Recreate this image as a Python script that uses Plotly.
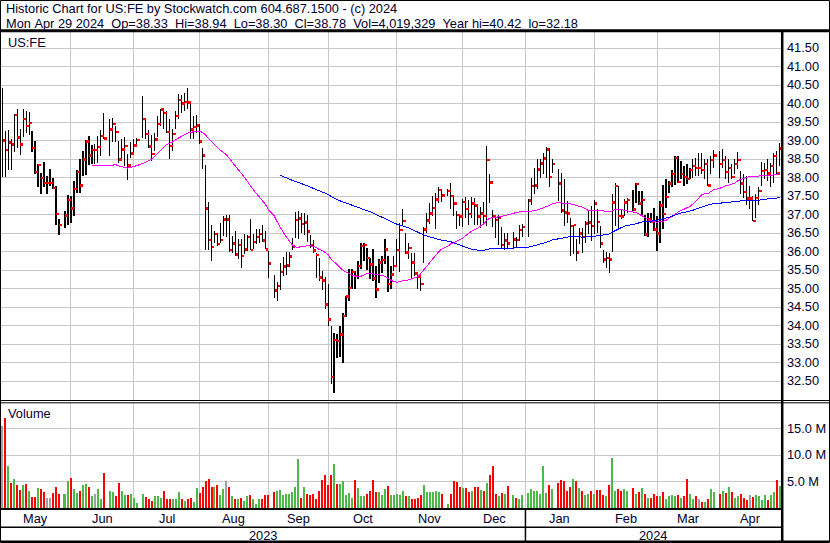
import numpy as np
import pandas as pd
import plotly.graph_objects as go

# ---------------- data ----------------
holidays = ["2023-05-29", "2023-06-19", "2023-07-04", "2023-09-04", "2023-11-23",
            "2023-12-25", "2024-01-01", "2024-01-15", "2024-02-19", "2024-03-29"]

month_names = ["May", "Jun", "Jul", "Aug", "Sep", "Oct", "Nov", "Dec",
               "Jan", "Feb", "Mar", "Apr"]
year_names = ["2023", "2024"]

high = [
    # May 2023
    40.42, 39.26, 39.28, 39.03, 39.72, 39.84, 39.30, 39.84, 39.80, 39.78, 39.26, 38.99,
    38.36, 38.13, 38.43, 38.03, 38.22, 37.98, 37.77, 36.89, 37.09, 37.54,
    # Jun
    37.50, 37.90, 38.20, 38.49, 38.72, 39.01, 39.11, 38.88, 38.90, 39.13, 39.29, 39.73,
    39.58, 39.62, 39.40, 39.00, 39.05, 39.10, 38.64, 38.97, 39.05,
    # Jul
    39.08, 40.19, 39.61, 39.29, 39.15, 39.20, 39.65, 39.86, 39.89, 39.80, 39.59, 39.32,
    39.80, 40.25, 40.22, 40.29, 40.42, 40.05, 39.66, 39.69,
    # Aug
    39.44, 38.81, 38.35, 37.35, 36.72, 36.55, 36.49, 36.78, 36.96, 36.98, 36.98, 36.42,
    36.55, 36.35, 36.33, 36.46, 36.44, 36.87, 36.46, 36.60, 36.62, 36.72, 36.55,
    # Sep
    36.01, 35.36, 35.18, 35.68, 35.84, 35.99, 35.99, 36.36, 37.08, 37.10, 37.05, 37.05,
    36.99, 36.45, 36.30, 35.95, 35.83, 35.47, 35.30, 35.11,
    # Oct
    34.00, 33.79, 33.76, 33.99, 34.35, 34.81, 35.52, 35.52, 35.47, 35.74, 36.24, 36.22,
    36.10, 35.83, 36.08, 35.61, 35.79, 35.88, 36.33, 35.88, 35.61, 35.88,
    # Nov
    36.35, 36.78, 37.16, 36.51, 36.24, 35.97, 35.97, 35.45, 35.36, 36.65, 37.05, 37.32,
    37.50, 37.59, 37.73, 37.65, 37.70, 37.86, 37.50, 37.09, 37.00,
    # Dec
    37.43, 37.48, 37.39, 37.48, 37.45, 37.25, 37.20, 37.34, 38.85, 38.10, 37.12, 36.94,
    37.00, 36.67, 36.50, 36.50, 36.53, 36.40, 36.72, 36.75,
    # Jan 2024
    37.43, 38.00, 38.27, 38.50, 38.51, 38.67, 38.83, 38.80, 38.50, 38.24, 38.11, 37.95,
    37.36, 36.91, 36.72, 36.33, 36.64, 36.64, 36.82, 37.09, 37.23,
    # Feb
    37.39, 37.15, 36.70, 36.05, 36.00, 35.95, 37.55, 37.85, 37.77, 37.14, 37.41, 37.45,
    37.65, 37.86, 37.64, 37.64, 37.00, 37.05, 37.05, 37.18,
    # Mar
    36.96, 37.37, 37.79, 37.95, 37.90, 38.19, 38.58, 38.58, 38.45, 38.31, 38.36, 38.27,
    38.51, 38.54, 38.67, 38.67, 38.49, 38.49, 38.58, 38.73,
    # Apr
    38.72, 38.76, 38.58, 38.49, 38.36, 38.49, 38.69, 38.18, 38.09, 38.04, 37.77, 37.50,
    37.55, 37.75, 38.43, 38.40, 38.49, 38.40, 38.65, 38.72, 38.94,
]

low = [
    # May 2023
    38.02, 38.01, 38.20, 38.20, 38.68, 38.80, 38.60, 39.10, 39.20, 39.16, 38.69, 38.10,
    37.75, 37.55, 37.75, 37.55, 37.77, 37.68, 36.72, 36.45, 36.64, 36.72,
    # Jun
    36.76, 36.96, 37.59, 37.59, 38.04, 38.08, 38.33, 38.36, 38.36, 38.40, 38.58, 39.04,
    38.58, 38.95, 38.96, 38.38, 38.45, 38.32, 37.93, 38.52, 38.65,
    # Jul
    38.85, 39.06, 39.03, 38.79, 38.44, 38.72, 39.10, 39.39, 39.30, 39.19, 38.49, 38.72,
    39.32, 39.57, 39.75, 39.80, 39.86, 39.03, 39.05, 39.21,
    # Aug
    38.91, 38.22, 36.04, 36.04, 35.74, 36.22, 36.15, 36.24, 36.42, 36.40, 36.00, 35.97,
    35.88, 35.79, 35.56, 35.92, 36.01, 36.04, 36.06, 36.20, 36.24, 36.26, 36.06,
    # Sep
    35.29, 34.73, 34.67, 34.96, 35.34, 35.36, 35.59, 36.04, 36.36, 36.34, 36.49, 36.45,
    36.27, 36.10, 35.97, 35.28, 35.20, 34.96, 34.44, 34.00,
    # Oct
    32.41, 32.18, 33.13, 33.15, 32.98, 34.24, 34.66, 34.99, 34.99, 35.27, 35.52, 35.74,
    35.49, 35.27, 35.20, 34.75, 35.16, 35.43, 35.65, 34.90, 35.00, 35.47,
    # Nov
    35.58, 35.45, 36.69, 35.92, 35.79, 35.29, 35.34, 34.99, 34.93, 35.68, 36.51, 36.74,
    36.96, 36.60, 37.32, 37.34, 37.50, 37.14, 36.95, 36.60, 36.69,
    # Dec
    36.67, 36.90, 36.72, 36.90, 36.72, 36.72, 36.63, 36.76, 36.70, 37.30, 36.67, 36.36,
    36.18, 36.09, 36.05, 36.10, 36.08, 36.12, 36.28, 36.40,
    # Jan 2024
    36.40, 37.26, 37.56, 37.68, 37.99, 38.10, 38.00, 37.73, 38.11, 37.36, 37.05, 36.69,
    36.78, 35.88, 35.92, 35.74, 36.19, 35.97, 36.24, 36.46, 36.28,
    # Feb
    36.46, 36.50, 36.10, 35.70, 35.55, 35.43, 35.99, 36.69, 36.64, 36.87, 36.96, 37.05,
    37.09, 37.32, 37.27, 36.96, 36.42, 36.38, 36.78, 36.55,
    # Mar
    36.01, 36.24, 36.60, 37.18, 37.59, 37.73, 37.79, 37.86, 37.95, 37.77, 37.82, 37.95,
    38.00, 38.04, 38.04, 38.09, 37.95, 37.77, 38.09, 38.27,
    # Apr
    38.00, 38.27, 37.95, 37.86, 37.95, 38.09, 38.22, 37.55, 37.45, 37.27, 37.14, 36.82,
    36.91, 37.27, 37.77, 37.95, 37.90, 37.73, 37.86, 38.09, 38.30,
]

close = [
    # May 2023
    39.00, 38.74, 38.94, 38.90, 39.69, 39.08, 38.90, 39.58, 39.39, 39.47, 38.80, 38.15,
    38.34, 37.99, 37.85, 37.85, 37.85, 37.72, 37.01, 36.72, 36.98, 37.39,
    # Jun
    37.17, 37.69, 38.15, 37.79, 38.49, 38.97, 38.59, 38.74, 38.74, 38.82, 39.12, 39.06,
    39.30, 39.45, 39.23, 38.49, 38.76, 38.85, 38.33, 38.65, 38.87,
    # Jul
    39.01, 39.58, 39.18, 38.84, 38.64, 39.03, 39.45, 39.84, 39.74, 39.23, 38.85, 39.18,
    39.66, 40.10, 40.00, 40.04, 40.02, 39.30, 39.36, 39.40,
    # Aug
    38.98, 38.60, 37.17, 36.31, 36.12, 36.47, 36.20, 36.31, 36.87, 36.87, 36.04, 36.22,
    35.92, 36.18, 35.88, 36.06, 36.39, 36.04, 36.26, 36.39, 36.47, 36.29, 36.06,
    # Sep
    35.68, 34.95, 35.07, 35.45, 35.59, 35.62, 35.86, 36.13, 36.85, 36.90, 36.74, 36.78,
    36.54, 36.16, 36.02, 35.91, 35.30, 35.21, 34.56, 34.16,
    # Oct
    32.61, 33.61, 33.58, 33.76, 34.26, 34.78, 35.01, 35.45, 35.34, 35.61, 36.15, 36.18,
    35.82, 35.65, 35.27, 34.98, 35.70, 35.77, 36.06, 35.12, 35.38, 35.61,
    # Nov
    36.04, 36.58, 36.82, 35.97, 36.10, 35.70, 35.41, 35.32, 35.12, 36.60, 36.84, 37.03,
    37.18, 37.41, 37.66, 37.52, 37.63, 37.50, 37.30, 36.99, 36.95,
    # Dec
    37.34, 37.15, 37.01, 37.30, 37.25, 36.95, 37.02, 36.96, 38.47, 37.86, 36.96, 36.85,
    36.92, 36.18, 36.30, 36.22, 36.33, 36.31, 36.58, 36.66,
    # Jan 2024
    37.38, 37.77, 37.79, 38.22, 38.38, 38.52, 38.75, 38.01, 38.36, 37.83, 37.11, 37.05,
    37.02, 36.69, 36.72, 35.97, 36.49, 36.39, 36.76, 36.78, 36.69,
    # Feb
    37.30, 36.80, 36.22, 35.79, 35.82, 35.79, 37.32, 37.77, 36.96, 36.94, 37.32, 37.39,
    37.14, 37.82, 37.30, 37.39, 36.46, 36.87, 36.80, 36.60,
    # Mar
    36.49, 37.25, 37.01, 37.47, 37.84, 38.09, 38.53, 37.88, 38.09, 38.01, 37.96, 38.20,
    38.31, 38.26, 38.26, 38.20, 38.36, 37.79, 38.47, 38.60,
    # Apr
    38.36, 38.47, 38.15, 38.26, 38.01, 38.36, 38.47, 37.84, 37.61, 37.43, 37.43, 36.82,
    37.45, 37.64, 38.18, 38.20, 38.11, 38.31, 38.58, 38.11, 38.78,
]

volume_m = [
    # May 2023
    15.5, 17.1, 7.9, 4.7, 5.5, 4.3, 3.4, 4.3, 4.5, 3.2, 2.0, 2.0,
    3.7, 3.5, 3.0, 1.8, 1.8, 2.8, 3.9, 2.6, 2.6, 5.0,
    # Jun
    5.7, 3.5, 2.8, 3.1, 4.2, 4.5, 3.9, 2.1, 2.6, 3.5, 1.6, 6.6,
    3.1, 2.9, 2.1, 4.6, 3.1, 2.3, 2.3, 2.5, 1.8,
    # Jul
    0.8, 2.5, 2.0, 1.7, 1.2, 2.2, 2.1, 1.9, 3.2, 1.6, 1.6, 1.7,
    1.7, 2.9, 1.7, 1.3, 1.7, 1.9, 1.1, 3.7,
    # Aug
    2.7, 4.0, 5.0, 5.4, 3.9, 3.9, 4.3, 2.3, 3.6, 5.0, 3.9, 2.1,
    1.7, 1.7, 1.9, 1.3, 2.1, 2.4, 1.6, 0.6, 1.6, 1.7, 2.4,
    # Sep
    2.4, 3.0, 3.2, 3.4, 2.4, 2.6, 2.6, 3.0, 3.9, 9.3, 1.9, 4.0,
    2.6, 2.4, 2.6, 1.7, 3.2, 5.2, 6.2, 4.2,
    # Oct
    6.2, 8.3, 4.4, 4.4, 5.0, 2.3, 2.7, 1.9, 5.2, 3.7, 2.1, 2.1,
    2.6, 3.2, 5.2, 3.0, 2.9, 2.4, 3.6, 4.1, 2.3, 2.3,
    # Nov
    2.6, 2.3, 3.2, 2.1, 2.1, 1.6, 1.6, 1.9, 2.3, 4.2, 3.0, 2.9,
    2.9, 3.2, 2.9, 2.6, 0.6, 2.6, 5.0, 4.8, 3.9,
    # Dec
    3.8, 3.7, 2.9, 3.1, 3.9, 3.9, 3.4, 3.1, 4.6, 6.1, 7.9, 2.5,
    2.1, 2.8, 2.5, 4.1, 2.3, 1.9, 1.6, 2.3,
    # Jan 2024
    2.8, 3.6, 3.2, 3.2, 2.6, 7.9, 2.8, 4.2, 3.6, 4.6, 5.2, 5.0,
    3.1, 3.9, 5.5, 5.0, 3.7, 3.1, 2.3, 2.5, 3.1,
    # Feb
    2.6, 3.4, 3.4, 2.3, 2.1, 4.2, 9.5, 3.2, 3.6, 3.1, 3.6, 3.1,
    3.7, 2.6, 2.9, 3.8, 2.6, 1.9, 1.9, 2.6,
    # Mar
    2.2, 2.1, 3.0, 1.7, 2.1, 2.3, 2.1, 2.4, 1.9, 2.1, 5.4, 2.6,
    1.6, 2.1, 1.7, 1.1, 1.0, 1.7, 3.6, 2.9,
    # Apr
    2.6, 3.1, 2.8, 3.9, 2.9, 1.9, 2.1, 2.6, 1.8, 1.5, 2.3, 2.0,
    2.3, 2.1, 1.4, 2.3, 1.5, 2.3, 2.9, 5.2, 4.02,
]

header_1 = "Historic Chart for US:FE by Stockwatch.com 604.687.1500 - (c) 2024"
header_2 = ("Mon Apr 29 2024  Op=38.33  Hi=38.94  Lo=38.30  Cl=38.78  "
            "Vol=4,019,329  Year hi=40.42  lo=32.18")
price_ticks = [32.5 + 0.5 * k for k in range(19)]
volume_ticks = [5, 10, 15]

# ---------------- positions ----------------
weekdays = pd.bdate_range("2023-05-01", "2024-04-29")
is_trade = ~weekdays.isin(pd.to_datetime(holidays))
xi = np.arange(len(weekdays))[is_trade]
n = min(len(xi), len(high), len(low), len(close), len(volume_m))
xi = xi[:n]

# month boundaries (1st of month, weekend -> previous Friday)
bounds = []
for m in pd.date_range("2023-06-01", "2024-04-01", freq="MS"):
    d = m
    while d.weekday() >= 5:
        d -= pd.Timedelta(days=1)
    bounds.append(int(weekdays.get_loc(d)))

W, H = 830, 543
PLOT_R, PLOT_T, PLOT_B = 781, 32, 508
X0PX, DX = 2.2, 2.99
xmin = -X0PX / DX
xmax = (PLOT_R - X0PX) / DX


def PX(px):
    return px / PLOT_R


def PY(py):
    return (PLOT_B - py) / (PLOT_B - PLOT_T)


def price_at(py):
    return 41.5 - (py - 48) / 37.0


VOL0, VOLK = 507.5, 5.25


def vol_at(py):
    return (VOL0 - py) / VOLK


# ---------------- traces ----------------
cl = pd.Series(close[:n])
ma30 = cl.rolling(30).mean()
ma90 = cl.rolling(90).mean()

hx, hy = [], []
for k in range(n):
    hx += [xi[k], xi[k], None]
    hy += [low[k], high[k], None]

vcol = []
for k in range(n):
    if k == 0 or close[k] == close[k - 1]:
        vcol.append("#a0a0a0")
    elif close[k] > close[k - 1]:
        vcol.append("#4cb848")
    else:
        vcol.append("#ff0000")

fig = go.Figure()
fig.add_trace(go.Scatter(x=hx, y=hy, mode="lines", line=dict(color="#000000", width=1.2),
                         hoverinfo="skip", showlegend=False))
fig.add_trace(go.Scatter(x=xi + 0.55, y=close[:n], mode="markers",
                         marker=dict(symbol="square", size=2.6, color="#ff0000",
                                     line=dict(width=0)),
                         showlegend=False))
fig.add_trace(go.Scatter(x=xi, y=ma30, mode="lines", line=dict(color="#ff00ff", width=1),
                         showlegend=False))
fig.add_trace(go.Scatter(x=xi, y=ma90, mode="lines", line=dict(color="#0000ff", width=1),
                         showlegend=False))
fig.add_trace(go.Bar(x=xi, y=volume_m[:n], width=0.67,
                     marker=dict(color=vcol, line=dict(width=0)),
                     xaxis="x2", yaxis="y2", showlegend=False))

TXT = "#000030"
FONT = dict(family="Liberation Sans, Arial, sans-serif", size=12.8, color=TXT)
GRID = "#c8c8c8"

xcommon = dict(range=[xmin, xmax], tickmode="array", tickvals=bounds,
               showticklabels=False, showgrid=True, gridcolor=GRID, gridwidth=1,
               zeroline=False, showline=False, ticks="", fixedrange=True)

fig.update_layout(
    width=W, height=H, autosize=False,
    margin=dict(l=0, r=W - PLOT_R, t=PLOT_T, b=H - PLOT_B, pad=0),
    paper_bgcolor="#ffffff", plot_bgcolor="#ffffff",
    font=FONT, showlegend=False, bargap=0,
    xaxis=dict(domain=[0, 1], anchor="y", **xcommon),
    xaxis2=dict(domain=[0, 1], anchor="y2", matches="x", **xcommon),
    yaxis=dict(domain=[PY(401), 1], anchor="x", side="right",
               range=[price_at(401), price_at(PLOT_T)],
               tickmode="array", tickvals=price_ticks,
               ticktext=["%.2f" % v for v in price_ticks],
               showgrid=True, gridcolor=GRID, gridwidth=1, zeroline=False,
               showline=False, ticks="", ticklabelstandoff=5, tickfont=FONT),
    yaxis2=dict(domain=[0, PY(403)], anchor="x2", side="right",
                range=[vol_at(PLOT_B), vol_at(403)],
                tickmode="array", tickvals=volume_ticks,
                ticktext=["%.1f M" % v for v in volume_ticks],
                showgrid=True, gridcolor=GRID, gridwidth=1, zeroline=False,
                showline=False, ticks="", ticklabelstandoff=5, tickfont=FONT),
)

shapes = []


def hline(py, x0px, x1px, w):
    shapes.append(dict(type="line", xref="paper", yref="paper", x0=PX(x0px), x1=PX(x1px),
                       y0=PY(py), y1=PY(py), line=dict(color="#000000", width=w)))


def vline(px, y0px, y1px, w):
    shapes.append(dict(type="line", xref="paper", yref="paper", x0=PX(px), x1=PX(px),
                       y0=PY(y0px), y1=PY(y1px), line=dict(color="#000000", width=w)))


shapes.append(dict(type="rect", xref="paper", yref="paper", x0=PX(0.5), x1=PX(829.5),
                   y0=PY(542.5), y1=PY(0.5), line=dict(color="#000000", width=1)))
hline(30.8, 0, 830, 3)
vline(782.2, 30, 543, 2.5)
hline(400.5, 0, 830, 1)
hline(402.8, 0, 830, 1)
hline(509, 0, 782, 2)
hline(527.3, 0, 782, 1.5)
hline(541.3, 0, 830, 1.5)
year_px = X0PX + DX * bounds[7]
vline(year_px, 509, 542, 1.5)
fig.update_layout(shapes=shapes)

ann = []
ann.append(dict(text=header_1.replace(" ", "\u00a0"), x=PX(4), y=PY(8.5), xref="paper", yref="paper",
                xanchor="left", yanchor="middle", showarrow=False, font=FONT))
ann.append(dict(text=header_2.replace(" ", "\u00a0"), x=PX(4), y=PY(23), xref="paper", yref="paper",
                xanchor="left", yanchor="middle", showarrow=False, font=FONT))
ann.append(dict(text="US:FE", x=PX(6), y=PY(42.5), xref="paper", yref="paper",
                xanchor="left", yanchor="middle", showarrow=False, font=FONT))
ann.append(dict(text="Volume", x=PX(6), y=PY(413), xref="paper", yref="paper",
                xanchor="left", yanchor="middle", showarrow=False, font=FONT))

edges = [xmin] + bounds + [xmax]
for k, name in enumerate(month_names):
    mid = (edges[k] + edges[k + 1]) / 2.0
    ann.append(dict(text=name, x=mid, y=PY(518.5), xref="x", yref="paper",
                    xanchor="center", yanchor="middle", showarrow=False, font=FONT))
year_edges = [xmin, bounds[7], xmax]
for k, name in enumerate(year_names):
    mid = (year_edges[k] + year_edges[k + 1]) / 2.0
    ann.append(dict(text=name, x=mid, y=PY(535), xref="x", yref="paper",
                    xanchor="center", yanchor="middle", showarrow=False, font=FONT))
fig.update_layout(annotations=ann)

post = (
    "document.body.style.margin='0';document.body.style.padding='0';"
    "document.body.style.overflow='hidden';"
    "var s=document.createElement('style');"
    "s.innerHTML='.scatterlayer path.js-line{shape-rendering:crispEdges;}"
    ".scatterlayer path.point{shape-rendering:crispEdges;}';"
    "document.head.appendChild(s);"
)
fig.write_html("out.html", config={"displayModeBar": False}, post_script=post)
